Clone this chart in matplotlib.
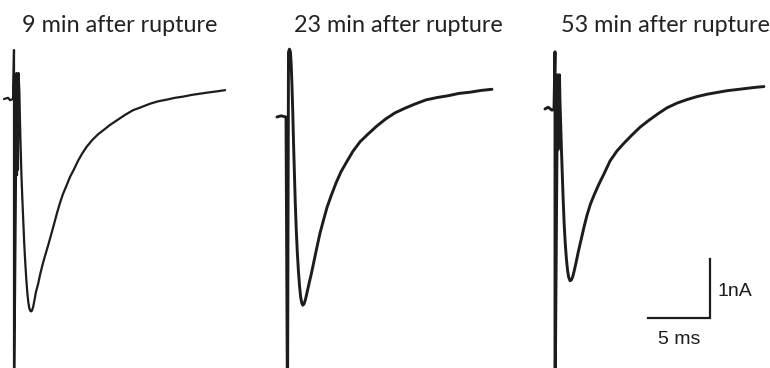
import matplotlib
matplotlib.use("Agg")
import matplotlib.pyplot as plt

# Whole-cell currents (time in ms from stimulus, current in nA from baseline)
titles = ["9 min after rupture", "23 min after rupture", "53 min after rupture"]

t_9 = [-0.81, -0.48, -0.32, -0.08, 0.0, 0.0, 0.16, 0.20, 0.24, 0.28, 0.32, 0.36,
       0.43, 0.48, 0.54, 0.60, 0.67, 0.75, 0.83, 0.91, 0.99, 1.07, 1.15, 1.23,
       1.31, 1.40, 1.48, 1.56, 1.65, 1.77, 1.94, 2.10, 2.30, 2.50, 2.74, 2.98,
       3.23, 3.47, 3.71, 3.95, 4.25, 4.52, 4.84, 5.16, 5.48, 5.86, 6.29, 6.77,
       7.26, 7.74, 8.31, 8.95, 9.60, 10.24, 10.97, 11.61, 12.34, 12.98, 13.63, 14.35,
       15.00, 15.65, 16.37, 17.02]
i_9 = [0.0, 0.02, -0.02, 0.0, 0.83, -5.44, -1.29, 0.44, -1.29, 0.32, -1.20, 0.44,
       0.15, -0.36, -0.86, -1.29, -1.68, -2.08, -2.47, -2.78, -3.05, -3.27, -3.44, -3.54,
       -3.59, -3.60, -3.57, -3.51, -3.41, -3.27, -3.14, -2.98, -2.81, -2.66, -2.49, -2.31,
       -2.12, -1.93, -1.76, -1.61, -1.46, -1.32, -1.19, -1.05, -0.93, -0.81, -0.70, -0.60,
       -0.52, -0.44, -0.36, -0.27, -0.19, -0.14, -0.08, -0.04, -0.01, 0.02, 0.04, 0.07,
       0.09, 0.11, 0.13, 0.15]

t_23 = [-0.85, -0.52, -0.12, 0.0, 0.08, 0.16, 0.24, 0.30, 0.36, 0.42, 0.48, 0.55,
        0.62, 0.70, 0.79, 0.88, 0.97, 1.06, 1.15, 1.23, 1.33, 1.44, 1.57, 1.73,
        1.94, 2.14, 2.38, 2.62, 2.90, 3.19, 3.51, 3.91, 4.31, 4.80, 5.28, 5.85,
        6.49, 7.22, 7.94, 8.67, 9.48, 10.28, 11.17, 12.06, 12.94, 13.83, 14.72, 15.60,
        16.49]
i_23 = [0.0, 0.02, 0.0, -5.14, 1.10, 1.15, 1.10, 0.88, 0.54, 0.12, -0.39, -0.90,
        -1.41, -1.88, -2.29, -2.61, -2.86, -3.05, -3.15, -3.19, -3.17, -3.10, -2.98, -2.83,
        -2.64, -2.44, -2.20, -1.97, -1.75, -1.53, -1.34, -1.12, -0.93, -0.75, -0.58, -0.42,
        -0.29, -0.15, -0.03, 0.07, 0.15, 0.22, 0.29, 0.33, 0.36, 0.40, 0.42, 0.45,
        0.47]

t_53 = [-0.81, -0.56, -0.24, -0.08, 0.0, 0.0, 0.16, 0.20, 0.24, 0.28, 0.32, 0.36,
        0.40, 0.46, 0.52, 0.59, 0.66, 0.74, 0.83, 0.92, 1.01, 1.10, 1.21, 1.31,
        1.42, 1.53, 1.69, 1.88, 2.10, 2.34, 2.58, 2.86, 3.19, 3.55, 3.95, 4.44,
        5.00, 5.56, 6.21, 6.85, 7.58, 8.31, 9.03, 9.84, 10.65, 11.45, 12.26, 13.06,
        13.87, 14.68, 15.48, 16.29, 16.85]
i_53 = [0.0, 0.03, -0.02, 0.0, 0.97, -5.27, -0.69, 0.58, -0.69, 0.53, -0.61, 0.58,
        0.15, -0.27, -0.69, -1.12, -1.54, -1.95, -2.29, -2.54, -2.73, -2.85, -2.91, -2.90,
        -2.85, -2.76, -2.61, -2.42, -2.22, -2.00, -1.80, -1.61, -1.44, -1.27, -1.10, -0.88,
        -0.71, -0.58, -0.44, -0.31, -0.19, -0.08, 0.02, 0.10, 0.16, 0.21, 0.25, 0.28,
        0.31, 0.33, 0.35, 0.37, 0.38]

scalebar_ms = 5
scalebar_na = 1

traces = [(t_9, i_9), (t_23, i_23), (t_53, i_53)]

W, H = 770, 368
PX_PER_MS = 12.4
PX_PER_NA = 59.0
INK = "#1c1c1c"

# panel frames in pixels: left, right, stimulus x, baseline y, line width, title centre
frames = [
    (0, 255, 14.0, 99.0, 1.6, 120),
    (258, 525, 287.5, 117.0, 2.1, 398),
    (528, 770, 555.0, 109.0, 2.1, 665),
]

fig = plt.figure(figsize=(W / 100, H / 100), dpi=100)
axes = []
for (t, i), (left, right, xs, yb, lw, tc), title in zip(traces, frames, titles):
    ax = fig.add_axes([left / W, 0, (right - left) / W, 1])
    ax.set_xlim((left - xs) / PX_PER_MS, (right - xs) / PX_PER_MS)
    ax.set_ylim((yb - H) / PX_PER_NA, yb / PX_PER_NA)
    ax.plot(t, i, color=INK, lw=lw, solid_joinstyle="round", solid_capstyle="round")
    ax.axis("off")
    fig.text(tc / W, 1 - 26 / H, title, ha="center", va="center",
             fontsize=16.8, family="Lato", color="#222222")
    axes.append(ax)

# scale bar in the last panel
ax = axes[-1]
x1, y0 = 12.5, -3.54
ax.plot([x1 - scalebar_ms, x1, x1], [y0, y0, y0 + scalebar_na],
        color=INK, lw=1.6, solid_joinstyle="miter")
ax.text(x1 + 0.6, y0 + scalebar_na * 0.44, f"{scalebar_na}nA", ha="left", va="center",
        fontsize=14, family="Liberation Sans", color=INK)
ax.text(x1 - scalebar_ms / 2, y0 - 0.36, f"{scalebar_ms} ms", ha="center", va="center",
        fontsize=14, family="Liberation Sans", color=INK)

fig.savefig("out.png", dpi=100, facecolor="white")
